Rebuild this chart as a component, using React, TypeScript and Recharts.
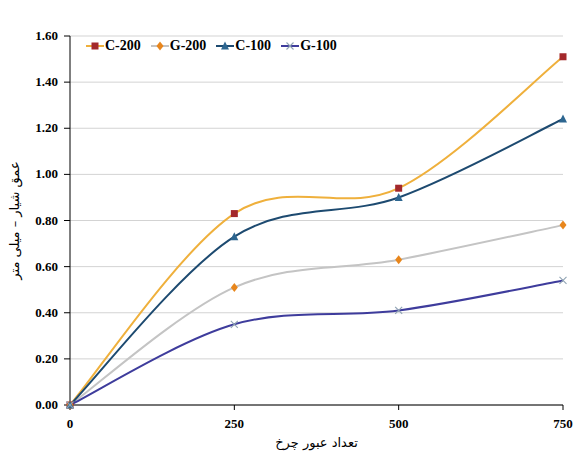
import { LineChart, Line, XAxis, YAxis, CartesianGrid, Legend } from 'recharts'

const passes = [0, 250, 500, 750]
const c200 = [0, 0.83, 0.94, 1.51]
const g200 = [0, 0.51, 0.63, 0.78]
const c100 = [0, 0.73, 0.9, 1.24]
const g100 = [0, 0.35, 0.41, 0.54]
const yTicks = [0, 0.2, 0.4, 0.6, 0.8, 1.0, 1.2, 1.4, 1.6]

const data = passes.map((p, i) => ({
  pass: p,
  c200: c200[i],
  g200: g200[i],
  c100: c100[i],
  g100: g100[i],
}))

type Shape = 'square' | 'diamond' | 'triangle' | 'cross'

const series: { key: string; name: string; line: string; mark: string; shape: Shape }[] = [
  { key: 'c200', name: 'C-200', line: '#efb03c', mark: '#a3282b', shape: 'square' },
  { key: 'g200', name: 'G-200', line: '#c4c4c4', mark: '#e8861c', shape: 'diamond' },
  { key: 'c100', name: 'C-100', line: '#1d4a70', mark: '#2d6690', shape: 'triangle' },
  { key: 'g100', name: 'G-100', line: '#3e3c9c', mark: '#8fa3b3', shape: 'cross' },
]

const serif = '"Liberation Serif", "Times New Roman", serif'

// Excel-like smoothed line (Catmull-Rom through the points)
const smooth = (context: any) => {
  let pts: number[][] = []
  return {
    areaStart() {},
    areaEnd() {},
    lineStart() {
      pts = []
    },
    point(x: number, y: number) {
      pts.push([+x, +y])
    },
    lineEnd() {
      if (!pts.length) return
      context.moveTo(pts[0][0], pts[0][1])
      for (let i = 0; i < pts.length - 1; i++) {
        const p0 = pts[i - 1] || pts[i]
        const p1 = pts[i]
        const p2 = pts[i + 1]
        const p3 = pts[i + 2] || p2
        context.bezierCurveTo(
          p1[0] + (p2[0] - p0[0]) / 6,
          p1[1] + (p2[1] - p0[1]) / 6,
          p2[0] - (p3[0] - p1[0]) / 6,
          p2[1] - (p3[1] - p1[1]) / 6,
          p2[0],
          p2[1]
        )
      }
    },
  }
}

function Marker({ cx, cy, shape, color }: { cx: number; cy: number; shape: Shape; color: string }) {
  if (shape === 'square') return <rect x={cx - 3.5} y={cy - 3.5} width={7} height={7} fill={color} />
  if (shape === 'diamond')
    return <polygon points={`${cx},${cy - 4.5} ${cx + 3.5},${cy} ${cx},${cy + 4.5} ${cx - 3.5},${cy}`} fill={color} />
  if (shape === 'triangle')
    return <polygon points={`${cx},${cy - 4.5} ${cx + 4},${cy + 3.5} ${cx - 4},${cy + 3.5}`} fill={color} />
  return (
    <g stroke={color} strokeWidth={1.1}>
      <line x1={cx - 3.5} y1={cy - 3.5} x2={cx + 3.5} y2={cy + 3.5} />
      <line x1={cx - 3.5} y1={cy + 3.5} x2={cx + 3.5} y2={cy - 3.5} />
    </g>
  )
}

function LegendBox() {
  return (
    <div style={{ display: 'flex', gap: 10, fontFamily: serif, fontWeight: 'bold', fontSize: 14 }}>
      {series.map((s) => (
        <div key={s.key} style={{ display: 'flex', alignItems: 'center' }}>
          <svg width={18} height={12}>
            <line x1={0} y1={6} x2={18} y2={6} stroke={s.line} strokeWidth={2} />
            <Marker cx={9} cy={6} shape={s.shape} color={s.mark} />
          </svg>
          <span style={{ marginLeft: 1 }}>{s.name}</span>
        </div>
      ))}
    </div>
  )
}

function XTick({ x, y, payload }: any) {
  return (
    <text x={x} y={y + 16} textAnchor="middle" fontFamily={serif} fontWeight="bold" fontSize={13} fill="#000">
      {payload.value}
    </text>
  )
}

function YTick({ x, y, payload }: any) {
  return (
    <text x={x - 4} y={y + 4} textAnchor="end" fontFamily={serif} fontWeight="bold" fontSize={13} fill="#000">
      {Number(payload.value).toFixed(2)}
    </text>
  )
}

export default function App() {
  return (
    <div style={{ position: 'absolute', left: 0, top: 0, background: '#fff' }}>
      <LineChart width={576} height={453} data={data} margin={{ top: 20, right: 13, bottom: 0, left: 0 }}>
        <CartesianGrid vertical={false} stroke="#d3d3d3" />
        <XAxis
          dataKey="pass"
          type="number"
          domain={[0, 750]}
          ticks={passes}
          stroke="#000"
          tickSize={5}
          tick={<XTick />}
          height={48}
          label={{
            value: 'تعداد عبور چرخ',
            position: 'insideBottom',
            offset: 6,
            style: { fontFamily: '"DejaVu Sans", sans-serif', fontSize: 13, fill: '#000' },
          }}
        />
        <YAxis
          type="number"
          domain={[0, 1.6]}
          ticks={yTicks}
          stroke="#000"
          tickSize={6}
          tick={<YTick />}
          width={70}
          label={{
            value: 'عمق شیار – میلی متر',
            angle: -90,
            position: 'insideLeft',
            offset: 14,
            style: { fontFamily: '"DejaVu Sans", sans-serif', fontSize: 13, fill: '#000', textAnchor: 'middle' },
          }}
        />
        <Legend
          verticalAlign="top"
          align="left"
          content={() => <LegendBox />}
          wrapperStyle={{ top: 38, left: 86, width: 'auto' }}
        />
        {series.map((s) => (
          <Line
            key={s.key}
            dataKey={s.key}
            name={s.name}
            type={smooth as any}
            stroke={s.line}
            strokeWidth={2}
            isAnimationActive={false}
            dot={(p: any) => <Marker key={`${s.key}-${p.index}`} cx={p.cx} cy={p.cy} shape={s.shape} color={s.mark} />}
            activeDot={false}
          />
        ))}
      </LineChart>
    </div>
  )
}
